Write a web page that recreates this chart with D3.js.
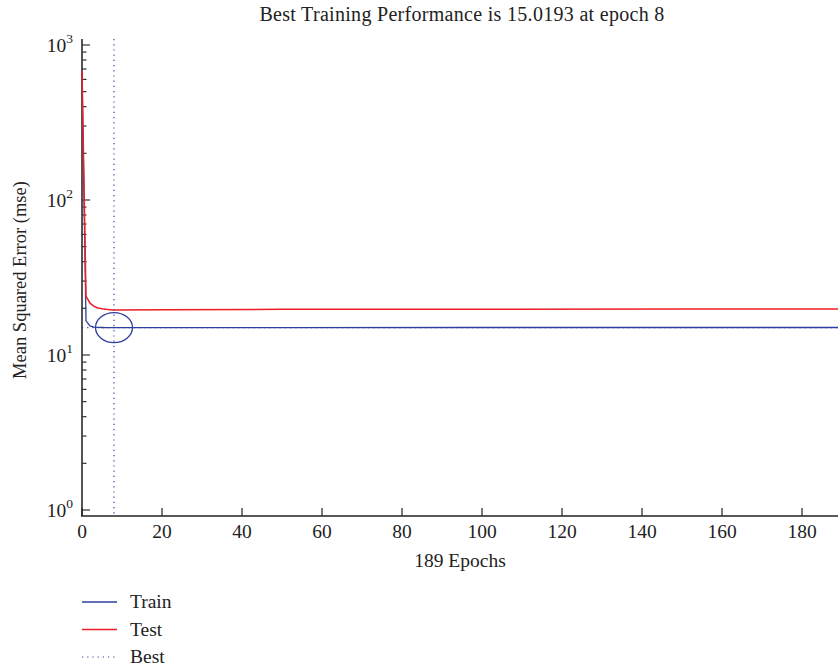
<!DOCTYPE html>
<html>
<head>
<meta charset="utf-8">
<script src="https://cdn.jsdelivr.net/npm/d3@7"></script>
<style>
  body { margin: 0; background: #fff; }
  text { font-family: "Liberation Serif", "DejaVu Serif", serif; fill: #222; }
</style>
</head>
<body>
<svg width="839" height="667"></svg>
<script>
var svg = d3.select("svg"),
    width = +svg.attr("width"),
    height = +svg.attr("height");

// values
var titleText = "Best Training Performance is 15.0193 at epoch 8";
var nEpochs = 189;
var bestEpoch = 8;
var bestValue = 15.0193;
var xTicks = [0, 20, 40, 60, 80, 100, 120, 140, 160, 180];
var yTicks = [1, 10, 100, 1000];

var trainEpochs = [0, 1, 2, 3, 4, 5, 6, 7, 8, 20, 50, 100, 150, 189];
var trainValues = [650, 16.6, 15.4, 15.15, 15.08, 15.05, 15.035, 15.025, 15.0193, 15.03, 15.04, 15.05, 15.05, 15.05];

var testEpochs = [0, 1, 2, 3, 4, 5, 6, 7, 8, 20, 50, 100, 150, 189];
var testValues = [680, 24, 21.6, 20.6, 20.1, 19.85, 19.7, 19.6, 19.5, 19.6, 19.7, 19.75, 19.8, 19.8];

var legendItems = ["Train", "Test", "Best"];

var margin = {left: 82, right: 1, top: 39, bottom: 151};

var x = d3.scaleLinear()
    .domain([0, nEpochs])
    .range([margin.left, width - margin.right]);

var y = d3.scaleLog()
    .domain([Math.pow(10, -6 / 155), Math.pow(10, 3 + 6 / 155)])
    .range([height - margin.bottom, margin.top]);

var blue = "#2e3f9e",
    red = "#ee1d25";

// y axis
var yAxis = svg.append("g");
yAxis.append("line")
    .attr("x1", x(0)).attr("x2", x(0))
    .attr("y1", y.range()[1]).attr("y2", y.range()[0])
    .attr("stroke", "#555")
    .attr("stroke-width", 2);

var minor = [];
[1, 10, 100].forEach(function(p) {
    for (var k = 2; k <= 9; k++) minor.push(k * p);
});

yAxis.selectAll(".minor")
    .data(minor)
    .enter().append("line")
    .attr("x1", x(0)).attr("x2", x(0) + 4.5)
    .attr("y1", function(d) { return y(d); })
    .attr("y2", function(d) { return y(d); })
    .attr("stroke", "#333")
    .attr("stroke-width", 1.2);

yAxis.selectAll(".major")
    .data(yTicks)
    .enter().append("line")
    .attr("x1", x(0)).attr("x2", x(0) + 8)
    .attr("y1", function(d) { return y(d); })
    .attr("y2", function(d) { return y(d); })
    .attr("stroke", "#333")
    .attr("stroke-width", 1.2);

var ylab = yAxis.selectAll(".ylab")
    .data(yTicks)
    .enter().append("text")
    .attr("x", x(0) - 9)
    .attr("y", function(d) { return y(d) + 7; })
    .attr("text-anchor", "end")
    .style("font-size", "19.5px");
ylab.append("tspan").text("10");
ylab.append("tspan")
    .attr("dy", -9)
    .style("font-size", "13.5px")
    .text(function(d) { return Math.round(Math.log10(d)); });

// x axis
var xAxis = svg.append("g");
xAxis.append("line")
    .attr("x1", x(0) - 1).attr("x2", x(nEpochs))
    .attr("y1", y.range()[0]).attr("y2", y.range()[0])
    .attr("stroke", "#222")
    .attr("stroke-width", 1.5);

xAxis.selectAll(".xt")
    .data(xTicks)
    .enter().append("line")
    .attr("x1", function(d) { return x(d); })
    .attr("x2", function(d) { return x(d); })
    .attr("y1", y.range()[0]).attr("y2", y.range()[0] - 8)
    .attr("stroke", "#222")
    .attr("stroke-width", 1.2);

xAxis.selectAll(".xl")
    .data(xTicks)
    .enter().append("text")
    .attr("x", function(d) { return x(d); })
    .attr("y", y.range()[0] + 22)
    .attr("text-anchor", "middle")
    .style("font-size", "19.5px")
    .text(function(d) { return d; });

// lines
var line = d3.line()
    .x(function(d) { return x(d[0]); })
    .y(function(d) { return y(d[1]); });

svg.append("path")
    .datum(d3.zip(trainEpochs, trainValues))
    .attr("d", line)
    .attr("fill", "none")
    .attr("stroke", blue)
    .attr("stroke-width", 1.3);

svg.append("path")
    .datum(d3.zip(testEpochs, testValues))
    .attr("d", line)
    .attr("fill", "none")
    .attr("stroke", red)
    .attr("stroke-width", 1.5);

// best markers
svg.append("line")
    .attr("x1", x(bestEpoch)).attr("x2", x(bestEpoch))
    .attr("y1", y.range()[1]).attr("y2", y.range()[0])
    .attr("stroke", blue)
    .attr("stroke-width", 1.2)
    .attr("stroke-dasharray", "1.2,4");

svg.append("line")
    .attr("x1", x(0)).attr("x2", x(nEpochs))
    .attr("y1", y(bestValue)).attr("y2", y(bestValue))
    .attr("stroke", blue)
    .attr("stroke-width", 1.2)
    .attr("stroke-dasharray", "1.2,4");

svg.append("ellipse")
    .attr("cx", x(bestEpoch))
    .attr("cy", y(bestValue))
    .attr("rx", 18.5)
    .attr("ry", 15)
    .attr("fill", "none")
    .attr("stroke", blue)
    .attr("stroke-width", 1.3);

svg.append("text")
    .attr("x", 460)
    .attr("y", 567)
    .attr("text-anchor", "middle")
    .style("font-size", "19.5px")
    .text(nEpochs + " Epochs");

svg.append("text")
    .attr("transform", "translate(26,280) rotate(-90)")
    .attr("text-anchor", "middle")
    .style("font-size", "18.5px")
    .text("Mean Squared Error (mse)");

svg.append("text")
    .attr("x", 462)
    .attr("y", 21)
    .attr("text-anchor", "middle")
    .style("font-size", "20px")
    .style("letter-spacing", "0.3px")
    .text(titleText);

// legend
var legend = svg.append("g").attr("transform", "translate(82,602)");
var lg = legend.selectAll("g")
    .data(legendItems)
    .enter().append("g")
    .attr("transform", function(d, i) { return "translate(0," + (i * 27.5) + ")"; });

lg.append("line")
    .attr("x1", 0).attr("x2", 35)
    .attr("stroke", function(d, i) { return i == 1 ? red : blue; })
    .attr("stroke-width", function(d, i) { return i == 2 ? 1.2 : 1.3; })
    .attr("stroke-dasharray", function(d, i) { return i == 2 ? "1.2,4" : null; });

lg.append("text")
    .attr("x", 48)
    .attr("y", 6)
    .style("font-size", "19.5px")
    .text(function(d) { return d; });
</script>
</body>
</html>
